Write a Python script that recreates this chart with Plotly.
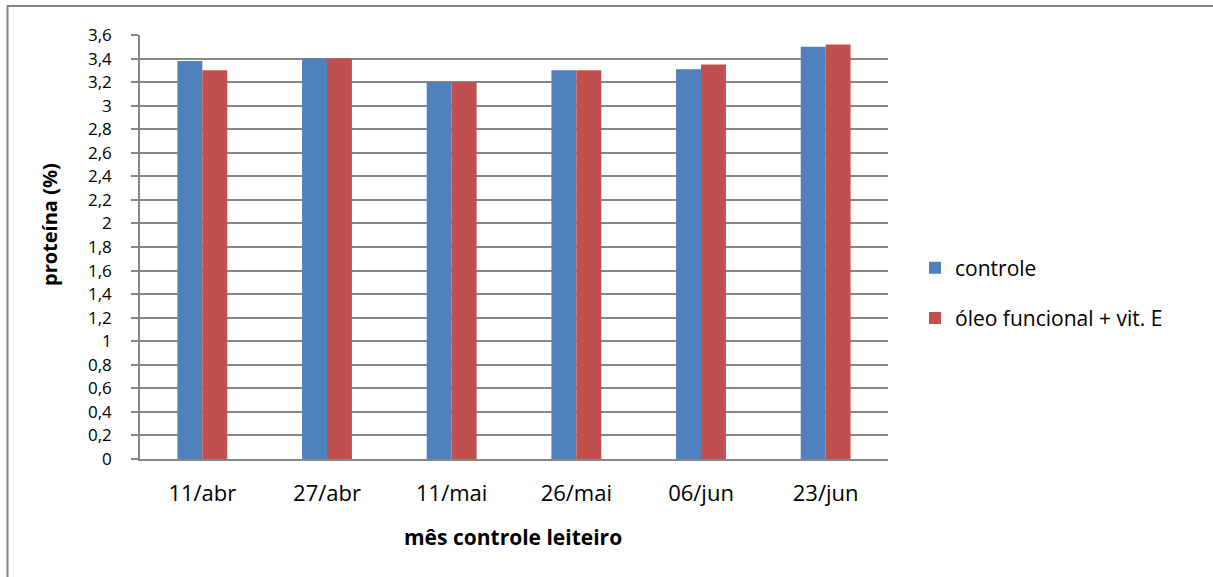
import plotly.graph_objects as go

categories = ["11/abr", "27/abr", "11/mai", "26/mai", "06/jun", "23/jun"]
controle = [3.38, 3.40, 3.20, 3.30, 3.31, 3.50]
oleo = [3.30, 3.40, 3.20, 3.30, 3.35, 3.52]
y_tickvals = [0, 0.2, 0.4, 0.6, 0.8, 1, 1.2, 1.4, 1.6, 1.8, 2, 2.2, 2.4, 2.6, 2.8, 3, 3.2, 3.4, 3.6]
y_ticktext = ["0", "0,2", "0,4", "0,6", "0,8", "1", "1,2", "1,4", "1,6", "1,8", "2",
              "2,2", "2,4", "2,6", "2,8", "3", "3,2", "3,4", "3,6"]

FONT = "'Open Sans', Lato, sans-serif"
GRAY = "#868686"
W, H = 1213, 577
L, R, T, B = 140, 325, 35, 118
PW, PH = W - L - R, H - T - B


def px(x):
    return (x - L) / PW


def py(y):
    return (H - B - y) / PH


fig = go.Figure()
fig.add_trace(go.Bar(x=categories, y=controle, name="controle",
                     marker=dict(color="#4F81BD", line=dict(width=0)), legendgroup="a"))
fig.add_trace(go.Bar(x=categories, y=oleo, name="óleo funcional + vit. E",
                     marker=dict(color="#C0504D", line=dict(width=0)), legendgroup="b"))

fig.update_layout(
    width=W, height=H,
    margin=dict(l=L, r=R, t=T, b=B, autoexpand=False),
    paper_bgcolor="white", plot_bgcolor="white",
    barmode="group", bargap=0.6, bargroupgap=0,
    font=dict(family=FONT, size=22, color="black"),
    legend=dict(x=px(915), y=py(293), xanchor="left", yanchor="middle",
                font=dict(size=21, family=FONT), tracegroupgap=20,
                itemwidth=30, bgcolor="rgba(0,0,0,0)"),
    xaxis=dict(showline=True, linecolor=GRAY, linewidth=1.5, ticks="",
               showgrid=False, tickfont=dict(size=22), ticklabelstandoff=14),
    yaxis=dict(range=[0, 3.6], tickvals=y_tickvals, ticktext=y_ticktext,
               showline=True, linecolor=GRAY, linewidth=1.5,
               showgrid=True, gridcolor=GRAY, gridwidth=1.5,
               ticks="outside", ticklen=7, tickcolor=GRAY, tickwidth=1.5,
               tickfont=dict(size=17), zeroline=False, ticklabelstandoff=16),
    annotations=[
        dict(text="<b>mês controle leiteiro</b>", xref="paper", yref="paper",
             x=px(513), y=py(537), xanchor="center", yanchor="middle",
             showarrow=False, font=dict(size=21, family=FONT)),
        dict(text="<b>proteína (%)</b>", xref="paper", yref="paper",
             x=px(50), y=py(225), xanchor="center", yanchor="middle",
             textangle=-90, showarrow=False, font=dict(size=20, family=FONT)),
    ],
    shapes=[
        dict(type="line", xref="paper", yref="paper",
             x0=px(7), x1=px(1213), y0=py(6), y1=py(6),
             line=dict(color=GRAY, width=2)),
        dict(type="line", xref="paper", yref="paper",
             x0=px(7.5), x1=px(7.5), y0=py(5), y1=py(577),
             line=dict(color=GRAY, width=2)),
    ],
)

fig.write_html("out.html", config={"displayModeBar": False},
               post_script="document.body.style.margin='0';document.body.style.overflow='hidden';")
